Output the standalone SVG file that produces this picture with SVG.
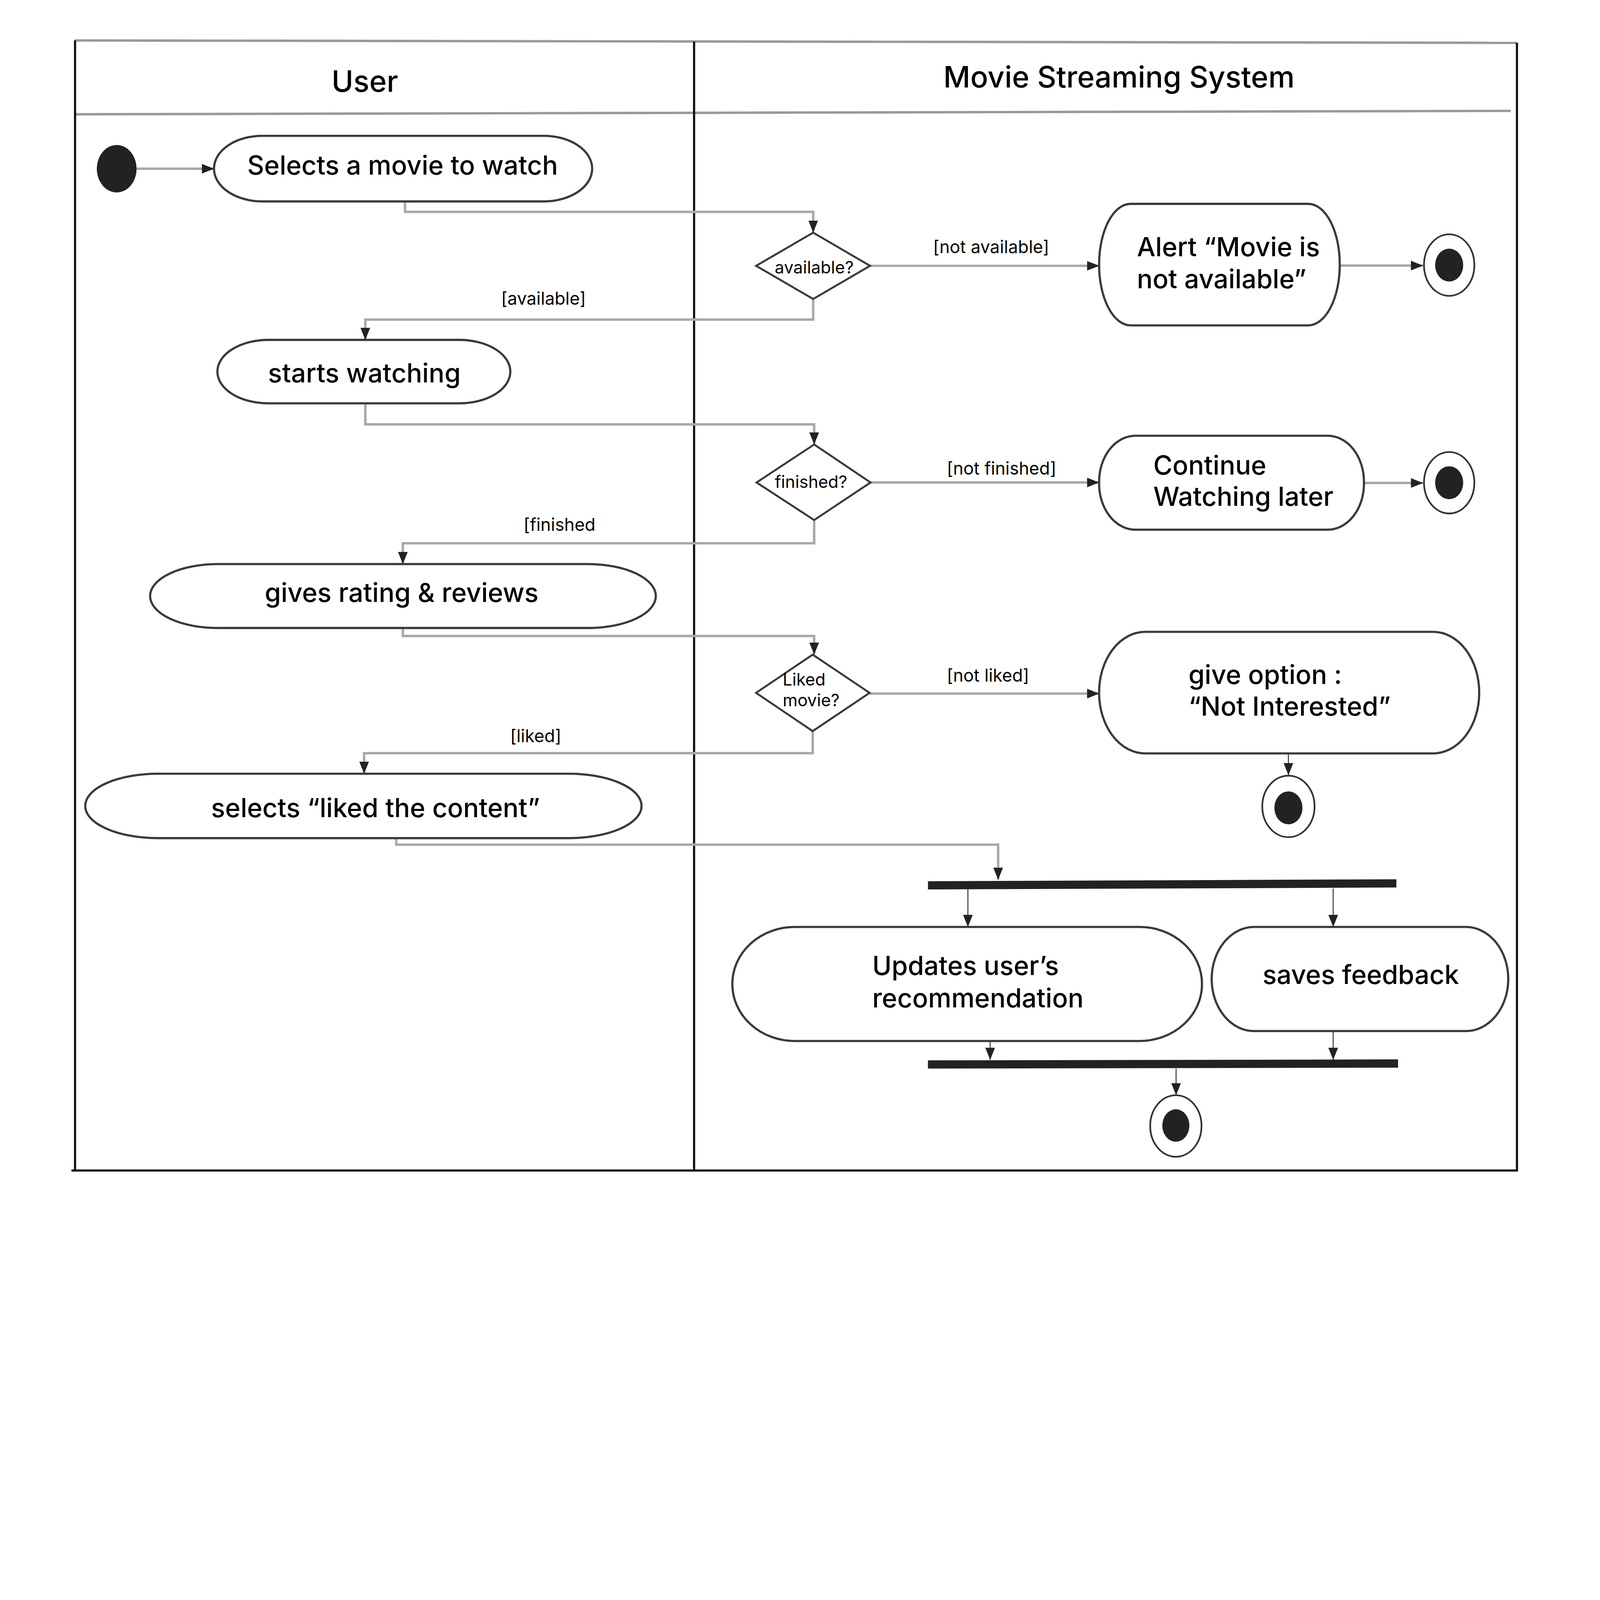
<svg xmlns="http://www.w3.org/2000/svg" width="6609" height="4953" viewBox="0 0 6609 4953" preserveAspectRatio="xMinYMin meet">
<style>
  svg { max-width:100vw; max-height:100vh; }
  .lane { stroke:#111; stroke-width:9; fill:none; }
  .hdr { stroke:#999; stroke-width:10; fill:none; }
  .act { fill:#fff; stroke:#3a3a3a; stroke-width:9; }
  .dec { fill:#fff; stroke:#3a3a3a; stroke-width:8; }
  .conn { stroke:#a8a8a8; stroke-width:10; fill:none; marker-end:url(#arr); }
  .connd { stroke:#555; stroke-width:5; fill:none; marker-end:url(#arr); }
  .bar { fill:#222; }
  .dot { fill:#222; }
  .ring { fill:#fff; stroke:#333; stroke-width:7; }
  .t { font-family:Inter, "Liberation Sans", sans-serif; fill:#000; }
  .title { font-size:122px; text-anchor:middle; font-weight:500; }
  .node { font-size:108px; font-weight:500; }
  .mid { text-anchor:middle; }
  .guard { font-size:72px; text-anchor:middle; }
  .dtext { font-size:70px; }
</style>
<defs>
  <marker id="arr" markerUnits="userSpaceOnUse" markerWidth="52" markerHeight="40" refX="50" refY="20" orient="auto">
    <path d="M0,0 L50,20 L0,40 z" fill="#222"/>
  </marker>
</defs>
<rect x="0" y="0" width="6609" height="4953" fill="#fff"/>

<g id="swimlanes">
  <line class="hdr" x1="308" y1="167" x2="6268" y2="177"/>
  <line class="hdr" x1="312" y1="472" x2="6240" y2="458"/>
  <line class="lane" x1="310" y1="167" x2="310" y2="4835"/>
  <line class="lane" x1="2867" y1="172" x2="2867" y2="4835"/>
  <line class="lane" x1="6266" y1="177" x2="6266" y2="4835"/>
  <line class="lane" x1="295" y1="4835" x2="6270" y2="4835"/>
  <text class="t title" x="1507" y="379">User</text>
  <text class="t title" x="4622" y="362">Movie Streaming System</text>
</g>

<g id="connectors">
  <line class="conn" x1="562" y1="697" x2="884" y2="697"/>
  <polyline class="conn" points="1673,832 1673,875 3359,875 3359,961"/>
  <line class="conn" x1="3594" y1="1098" x2="4540" y2="1098"/>
  <line class="conn" x1="5534" y1="1097" x2="5878" y2="1097"/>
  <polyline class="conn" points="3359,1235 3359,1320 1509,1320 1509,1404"/>
  <polyline class="conn" points="1509,1666 1509,1753 3363,1753 3363,1836"/>
  <line class="conn" x1="3596" y1="1993" x2="4540" y2="1993"/>
  <line class="conn" x1="5634" y1="1995" x2="5878" y2="1995"/>
  <polyline class="conn" points="3363,2148 3363,2244 1664,2244 1664,2330"/>
  <polyline class="conn" points="1664,2594 1664,2627 3363,2627 3363,2704"/>
  <line class="conn" x1="3592" y1="2865" x2="4540" y2="2865"/>
  <line class="connd" x1="5322" y1="3112" x2="5322" y2="3202"/>
  <polyline class="conn" points="3357,3020 3357,3111 1504,3111 1504,3196"/>
  <polyline class="conn" points="1637,3462 1637,3489 4123,3489 4123,3634"/>
  <line class="connd" x1="3998" y1="3673" x2="3998" y2="3829"/>
  <line class="connd" x1="5507" y1="3670" x2="5507" y2="3829"/>
  <line class="connd" x1="4090" y1="4300" x2="4090" y2="4378"/>
  <line class="connd" x1="5507" y1="4259" x2="5507" y2="4378"/>
  <line class="connd" x1="4858" y1="4414" x2="4858" y2="4524"/>
</g>

<g id="start">
  <ellipse class="dot" cx="482" cy="697" rx="82" ry="98"/>
</g>

<g id="selects-movie">
  <rect class="act" x="884" y="561" width="1562" height="271" rx="200" ry="135"/>
  <text class="t node mid" x="1663" y="721">Selects a movie to watch</text>
</g>

<g id="decision-available">
  <polygon class="dec" points="3359,961 3594,1098 3359,1235 3123,1098"/>
  <text class="t dtext mid" x="3363" y="1130">available?</text>
</g>
<text class="t guard" x="4094" y="1045">[not available]</text>
<text class="t guard" x="2245" y="1259">[available]</text>

<g id="alert-not-available">
  <rect class="act" x="4540" y="842" width="994" height="502" rx="130" ry="250"/>
  <text class="t node" x="4696" y="1059">Alert “Movie is</text>
  <text class="t node" x="4696" y="1190">not available”</text>
</g>

<g id="final-1">
  <ellipse class="ring" cx="5986" cy="1095" rx="104" ry="127"/>
  <ellipse class="dot" cx="5986" cy="1095" rx="58" ry="68"/>
</g>

<g id="starts-watching">
  <rect class="act" x="898" y="1404" width="1210" height="262" rx="210" ry="131"/>
  <text class="t node mid" x="1505" y="1580">starts watching</text>
</g>

<g id="decision-finished">
  <polygon class="dec" points="3363,1836 3596,1993 3363,2148 3125,1993"/>
  <text class="t dtext mid" x="3350" y="2016">finished?</text>
</g>
<text class="t guard" x="4137" y="1961">[not finished]</text>
<text class="t guard" x="2311" y="2193">[finished</text>

<g id="continue-watching">
  <rect class="act" x="4540" y="1800" width="1094" height="388" rx="150" ry="190"/>
  <text class="t node" x="4764" y="1961">Continue</text>
  <text class="t node" x="4764" y="2090">Watching later</text>
</g>

<g id="final-2">
  <ellipse class="ring" cx="5986" cy="1994" rx="104" ry="127"/>
  <ellipse class="dot" cx="5986" cy="1994" rx="58" ry="68"/>
</g>

<g id="gives-rating">
  <rect class="act" x="620" y="2330" width="2089" height="264" rx="280" ry="132"/>
  <text class="t node mid" x="1659" y="2486">gives rating &amp; reviews</text>
</g>

<g id="decision-liked">
  <polygon class="dec" points="3357,2704 3592,2862 3357,3020 3123,2862"/>
  <text class="t dtext" x="3233" y="2832">Liked</text>
  <text class="t dtext" x="3233" y="2918">movie?</text>
</g>
<text class="t guard" x="4081" y="2815">[not liked]</text>
<text class="t guard" x="2213" y="3066">[liked]</text>

<g id="give-option">
  <rect class="act" x="4540" y="2610" width="1570" height="502" rx="190" ry="250"/>
  <text class="t node" x="4909" y="2825">give option :</text>
  <text class="t node" x="4909" y="2956">“Not Interested”</text>
</g>

<g id="final-3">
  <ellipse class="ring" cx="5322" cy="3331" rx="108" ry="127"/>
  <ellipse class="dot" cx="5322" cy="3337" rx="58" ry="68"/>
</g>

<g id="selects-liked">
  <rect class="act" x="352" y="3196" width="2298" height="266" rx="300" ry="133"/>
  <text class="t node mid" x="1551" y="3375">selects “liked the content”</text>
</g>

<g id="fork">
  <polygon class="bar" points="3833,3640 5768,3632 5768,3666 3833,3674"/>
</g>

<g id="updates-recommendation">
  <rect class="act" x="3025" y="3829" width="1940" height="471" rx="257" ry="235"/>
  <text class="t node" x="3603" y="4027">Updates user’s</text>
  <text class="t node" x="3603" y="4161">recommendation</text>
</g>

<g id="saves-feedback">
  <rect class="act" x="5005" y="3829" width="1225" height="430" rx="175" ry="215"/>
  <text class="t node mid" x="5621" y="4065">saves feedback</text>
</g>

<g id="join">
  <polygon class="bar" points="3833,4380 5775,4376 5775,4410 3833,4414"/>
</g>

<g id="final-4">
  <ellipse class="ring" cx="4857" cy="4651" rx="106" ry="127"/>
  <ellipse class="dot" cx="4857" cy="4649" rx="56" ry="67"/>
</g>
</svg>
